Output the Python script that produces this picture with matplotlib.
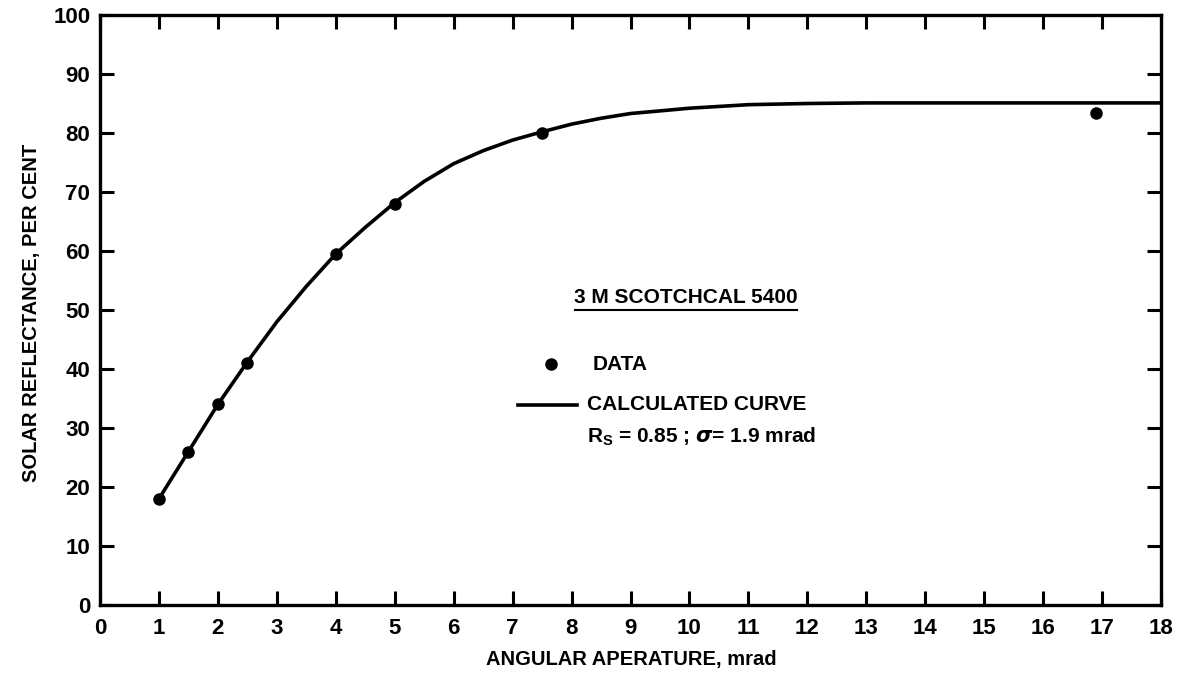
import matplotlib
matplotlib.use("Agg")
import matplotlib.pyplot as plt
from matplotlib.lines import Line2D

plt.rcParams['font.family'] = ['Liberation Sans Narrow', 'Liberation Sans', 'DejaVu Sans']
plt.rcParams['font.weight'] = 'bold'
plt.rcParams['mathtext.default'] = 'regular'

# Measured data points
data_x = [1.0, 1.5, 2.0, 2.5, 4.0, 5.0, 7.5, 16.9]
data_y = [17.9, 25.9, 34.0, 41.1, 59.5, 67.9, 80.0, 83.4]

# Calculated curve
curve_x = [1.0, 1.5, 2.0, 2.5, 3.0, 3.5, 4.0, 4.5, 5.0, 5.5, 6.0, 6.5, 7.0, 7.5,
           8.0, 8.5, 9.0, 10.0, 11.0, 12.0, 13.0, 15.0, 18.0]
curve_y = [18.0, 26.0, 34.0, 41.2, 48.0, 54.0, 59.5, 64.0, 68.2, 71.8, 74.8, 77.0,
           78.8, 80.2, 81.5, 82.5, 83.3, 84.2, 84.8, 85.0, 85.1, 85.1, 85.1]

x_ticks = list(range(0, 19))
y_ticks = list(range(0, 101, 10))

W, H = 1187, 679
fig = plt.figure(figsize=(W / 100, H / 100), dpi=100)
L, R, T, B = 100, 1161, 15, 605
ax = fig.add_axes([L / W, 1 - B / H, (R - L) / W, (B - T) / H])

ax.plot(curve_x, curve_y, color='black', lw=2.6, solid_capstyle='butt')
ax.plot(data_x, data_y, 'o', color='black', ms=8, zorder=3)

ax.set_xlim(0, 18)
ax.set_ylim(0, 100)
ax.set_xticks(x_ticks)
ax.set_yticks(y_ticks)
ax.set_xticklabels([str(v) for v in x_ticks])
ax.set_yticklabels([str(v) for v in y_ticks])
ax.tick_params(axis='both', direction='in', length=10, width=2.2, labelsize=16,
               top=True, right=True, colors='black')
ax.tick_params(axis='x', pad=9)
ax.tick_params(axis='y', pad=7)
for s in ax.spines.values():
    s.set_linewidth(2.4)

fs = 14.5
fig.text(631 / W, 1 - 660 / H, 'ANGULAR APERATURE, mrad', ha='center', va='center', fontsize=fs)
fig.text(32 / W, 1 - 313 / H, 'SOLAR REFLECTANCE, PER CENT', ha='center', va='center',
         fontsize=fs, rotation=90)

# Annotation block
fa = 15
ax.text(0.552, 0.522, '3 M SCOTCHCAL 5400', transform=ax.transAxes, ha='center', va='center',
        fontsize=fa)
ax.add_line(Line2D([0.448, 0.657], [0.500, 0.500], transform=ax.transAxes, color='black', lw=1.5))
ax.plot([0.425], [0.408], 'o', color='black', ms=8, transform=ax.transAxes, clip_on=False)
ax.text(0.464, 0.408, 'DATA', transform=ax.transAxes, ha='left', va='center', fontsize=fa)
ax.add_line(Line2D([0.394, 0.450], [0.339, 0.339], transform=ax.transAxes, color='black', lw=2.6))
ax.text(0.459, 0.339, 'CALCULATED CURVE', transform=ax.transAxes, ha='left', va='center',
        fontsize=fa)
ax.text(0.459, 0.285, r'R$_{S}$ = 0.85 ; $\mathit{\sigma}$= 1.9 mrad', transform=ax.transAxes,
        ha='left', va='center', fontsize=fa)

fig.savefig('out.png', dpi=100)
